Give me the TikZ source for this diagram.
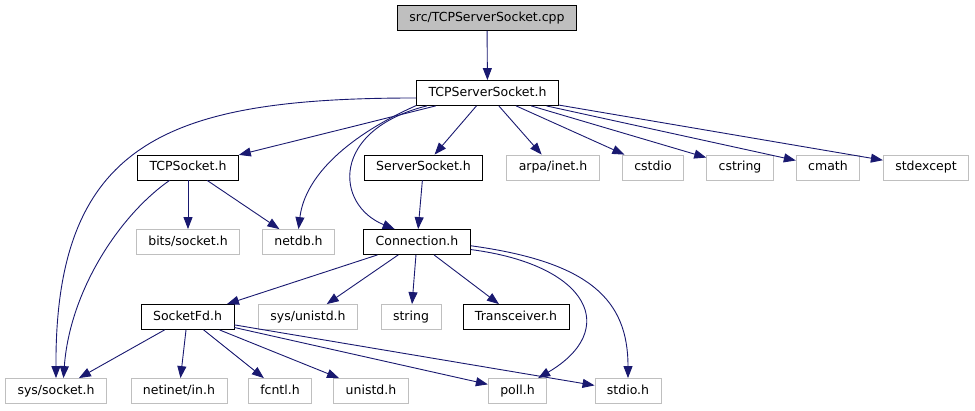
\documentclass[tikz,border=0pt]{standalone}
\usepackage{fontspec}
\setmainfont{DejaVu Sans}
\usetikzlibrary{arrows.meta}
\definecolor{Edge}{HTML}{191970}
\definecolor{SysLine}{HTML}{BFBFBF}
\definecolor{SrcFill}{HTML}{BFBFBF}

\begin{document}
\begin{tikzpicture}[
    x=1pt,y=-1pt,
    file/.style={draw=black,fill=white,line width=0.8pt,minimum height=25pt,
      inner xsep=12pt,inner ysep=0pt,text height=9.3pt,text depth=2.7pt,
      font=\fontsize{12.5}{15}\selectfont},
    source/.style={file,fill=SrcFill},
    syshdr/.style={file,draw=SysLine},
    arrow/.style={-{Triangle[length=12pt,width=9pt]},line width=0.9pt,color=Edge}
  ]
  \useasboundingbox (0,0) rectangle (975,411);

  % top two rows
  \node[source] (cpp) at (487,18) {src/TCPServerSocket.cpp};
  \node[file] (tsh) at (487.5,93) {TCPServerSocket.h};

  % headers included by TCPServerSocket.h
  \node[file] (tcpsock) at (188,167.5) {TCPSocket.h};
  \node[file] (srvsock) at (423.5,167.5) {ServerSocket.h};
  \node[syshdr] (arpa) at (553,167.5) {arpa/inet.h};
  \node[syshdr] (cstdio) at (653,167.5) {cstdio};
  \node[syshdr] (cstring) at (740,167.5) {cstring};
  \node[syshdr] (cmath) at (828,167.5) {cmath};
  \node[syshdr] (stdexcept) at (926,167.5) {stdexcept};

  \node[syshdr] (bits) at (188,242) {bits/socket.h};
  \node[syshdr] (netdb) at (298.5,242) {netdb.h};
  \node[file] (conn) at (417,242) {Connection.h};

  \node[file] (sockfd) at (187.5,317) {SocketFd.h};
  \node[syshdr] (sysunistd) at (308,317) {sys/unistd.h};
  \node[syshdr] (strhdr) at (411,317) {string};
  \node[file] (transc) at (516,317) {Transceiver.h};

  % bottom row
  \node[syshdr] (syssock) at (56,391) {sys/socket.h};
  \node[syshdr] (netinet) at (179,391) {netinet/in.h};
  \node[syshdr] (fcntl) at (280,391) {fcntl.h};
  \node[syshdr] (unistd) at (371,391) {unistd.h};
  \node[syshdr] (poll) at (517.5,391) {poll.h};
  \node[syshdr] (stdio) at (628,391) {stdio.h};

  \draw[arrow] (cpp) -- (tsh);

  \draw[arrow] (tsh.184) .. controls (170,98) and (55,140) .. (syssock.north);
  \draw[arrow] (tsh) -- (tcpsock);
  \draw[arrow] (tsh.190) .. controls (350,135) and (305,175) .. (netdb.north);
  \draw[arrow] (tsh.192) .. controls (330,130) and (335,205) .. (conn.150);
  \draw[arrow] (tsh) -- (srvsock);
  \draw[arrow] (tsh) -- (arpa);
  \draw[arrow] (tsh) -- (cstdio);
  \draw[arrow] (tsh) -- (cstring);
  \draw[arrow] (tsh) -- (cmath);
  \draw[arrow] (tsh) -- (stdexcept);

  \draw[arrow] (tcpsock) -- (bits);
  \draw[arrow] (tcpsock) -- (netdb);
  \draw[arrow] (tcpsock.215) .. controls (120,215) and (70,290) .. (syssock.60);

  \draw[arrow] (srvsock) -- (conn);

  \draw[arrow] (conn) -- (sockfd);
  \draw[arrow] (conn) -- (sysunistd);
  \draw[arrow] (conn) -- (strhdr);
  \draw[arrow] (conn) -- (transc);
  \draw[arrow] (conn.-8) .. controls (590,265) and (620,330) .. (poll.32);
  \draw[arrow] (conn.-4) .. controls (590,262) and (628,300) .. (stdio.north);

  \draw[arrow] (sockfd) -- (syssock);
  \draw[arrow] (sockfd) -- (netinet);
  \draw[arrow] (sockfd) -- (fcntl);
  \draw[arrow] (sockfd) -- (unistd);
  \draw[arrow] (sockfd) -- (poll);
  \draw[arrow] (sockfd) -- (stdio);
\end{tikzpicture}
\end{document}
